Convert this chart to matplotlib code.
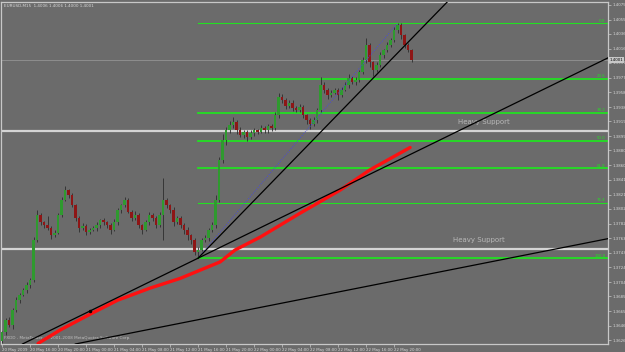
import matplotlib
matplotlib.use("Agg")
import matplotlib.pyplot as plt
import numpy as np

# EURUSD half-hour candles, bar 0 = 20 May 2009 12:00
closes = [1.3637, 1.3653, 1.3647, 1.3667, 1.3680, 1.3687, 1.3693, 1.3700, 1.3707, 1.3760,
          1.3794, 1.3784, 1.3780, 1.3776, 1.3767, 1.3770, 1.3794, 1.3814, 1.3827, 1.3820,
          1.3807, 1.3790, 1.3776, 1.3779, 1.3771, 1.3774, 1.3776, 1.3780, 1.3787, 1.3784,
          1.3780, 1.3774, 1.3784, 1.3800, 1.3807, 1.3814, 1.3798, 1.3790, 1.3794, 1.3780,
          1.3774, 1.3784, 1.3794, 1.3790, 1.3780, 1.3794, 1.3814, 1.3807, 1.3800, 1.3784,
          1.3790, 1.3780, 1.3774, 1.3767, 1.3760, 1.3744, 1.3747, 1.3760, 1.3763, 1.3774,
          1.3780, 1.3814, 1.3867, 1.3894, 1.3907, 1.3914, 1.3918, 1.3907, 1.3901, 1.3905,
          1.3898, 1.3903, 1.3907, 1.3905, 1.3910, 1.3907, 1.3913, 1.3910, 1.3927, 1.3952,
          1.3948, 1.3939, 1.3944, 1.3937, 1.3934, 1.3938, 1.3927, 1.3921, 1.3915, 1.3921,
          1.3934, 1.3968, 1.3961, 1.3954, 1.3957, 1.3961, 1.3954, 1.3961, 1.3968, 1.3977,
          1.3972, 1.3974, 1.3985, 1.4001, 1.4021, 1.3998, 1.3988, 1.3994, 1.4008, 1.4014,
          1.4021, 1.4028, 1.4041, 1.4048, 1.4034, 1.4021, 1.4014, 1.4001]
first_open = 1.3625
wick_up = [2, 3, 4, 3, 4, 2, 3, 4, 3, 4, 6, 3, 2, 12, 3, 4, 3, 4, 5, 2,
           3, 2, 3, 4, 3, 2, 3, 4, 2, 3, 2, 3, 4, 3, 2, 4, 3, 2, 5, 3,
           2, 3, 4, 2, 3, 4, 29, 3, 2, 4, 3, 2, 3, 4, 2, 3, 4, 3, 4, 2,
           5, 6, 4, 8, 4, 6, 7, 3, 4, 2, 3, 4, 3, 2, 4, 3, 2, 3, 4, 5,
           3, 2, 4, 3, 2, 4, 3, 2, 3, 4, 3, 10, 3, 2, 4, 3, 2, 4, 3, 5,
           2, 4, 3, 4, 9, 3, 2, 4, 3, 2, 4, 3, 4, 2, 3, 2, 3, 2]
wick_dn = [3, 4, 3, 5, 3, 4, 2, 3, 4, 3, 2, 4, 3, 2, 5, 3, 2, 3, 2, 4,
           3, 4, 5, 2, 4, 3, 2, 3, 3, 4, 3, 5, 2, 3, 4, 3, 2, 4, 3, 4,
           6, 2, 3, 4, 3, 2, 34, 4, 3, 5, 2, 4, 5, 6, 5, 4, 8, 2, 3, 4,
           3, 4, 3, 4, 6, 3, 4, 5, 3, 4, 5, 2, 4, 3, 2, 4, 3, 4, 2, 3,
           4, 3, 2, 4, 3, 2, 4, 5, 6, 2, 4, 3, 4, 5, 3, 2, 6, 3, 2, 4,
           3, 5, 2, 3, 4, 6, 8, 3, 2, 4, 3, 2, 3, 4, 5, 4, 2, 3]

# red moving average (bar index, price)
ma_bars = [10.3, 16.6, 25.1, 33.1, 42.3, 50.9, 56.6, 62.3, 66.6, 73.7, 85.1, 96.6, 105.1, 116.6]
ma_vals = [1.3622, 1.3640, 1.3661, 1.3680, 1.3696, 1.3709, 1.3720, 1.3731, 1.3747, 1.3764,
           1.3796, 1.3827, 1.3854, 1.3884]

# objects drawn on the chart
fib_high, fib_low, fib_bar = 1.4050, 1.3736, 56
fib_levels = [0.0, 23.6, 38.2, 50.0, 61.8, 76.4, 100.0]
fib_labels = ["0.0", "23.6", "38.2", "50.0", "61.8", "76.4", "100.0"]
support_levels = [1.3906, 1.3748]
bid = 1.4001
trend_a = [(56, 1.3736), (125.1, 1.3894)]
trend_b = [(56, 1.3736), (119.4, 1.4041)]
trend_c = [(21.7, 1.3622), (173, 1.3762)]

y_ticks = [1.4075, 1.4055, 1.4036, 1.4016, 1.3997, 1.3977, 1.3958, 1.3938, 1.3919, 1.3899,
           1.3880, 1.3860, 1.3841, 1.3821, 1.3802, 1.3782, 1.3763, 1.3743, 1.3724, 1.3704,
           1.3685, 1.3665, 1.3646, 1.3626]
x_tick_bars = [0, 8, 16, 24, 32, 40, 48, 56, 64, 72, 80, 88, 96, 104, 112]
x_tick_labels = ["20 May 2009", "20 May 16:00", "20 May 20:00", "21 May 00:00", "21 May 04:00",
                 "21 May 08:00", "21 May 12:00", "21 May 16:00", "21 May 20:00", "22 May 00:00",
                 "22 May 04:00", "22 May 08:00", "22 May 12:00", "22 May 16:00", "22 May 20:00"]

bg = "#6b6b6b"
fg = "#d8d8d8"
fig = plt.figure(figsize=(6.25, 3.52), dpi=100, facecolor=bg)
ax = fig.add_axes([1 / 625, 8 / 352, 607 / 625, 342 / 352], facecolor=bg)
ax.set_xlim(-0.29, 173.14)
ax.set_ylim(1.36213, 1.40785)

# candles
c = np.array(closes)
o = np.concatenate([[first_open], c[:-1]])
hi = np.maximum(o, c) + np.array(wick_up) * 0.0001
lo = np.minimum(o, c) - np.array(wick_dn) * 0.0001
idx = np.arange(len(c))
ax.vlines(idx, lo, hi, color="#2e2e2e", lw=0.6, zorder=3)
up = c >= o
body_h = np.maximum(np.abs(c - o), 0.00008)
ax.bar(idx[up], body_h[up], bottom=np.minimum(o, c)[up], width=0.6, color="#2f9a2f",
       edgecolor="none", zorder=4)
ax.bar(idx[~up], body_h[~up], bottom=np.minimum(o, c)[~up], width=0.6, color="#8e1616",
       edgecolor="none", zorder=4)

# horizontal lines
ax.axhline(bid, color="#8e8e8e", lw=0.7, zorder=1)
for lvl in support_levels:
    ax.axhline(lvl, color="#d4d4d4", lw=1.6, zorder=2)
ax.text(130.3, 1.3918, "Heavy Support", color="#b8b8b8", fontsize=5, va="center", zorder=6)
ax.text(128.9, 1.3760, "Heavy Support", color="#b8b8b8", fontsize=5, va="center", zorder=6)

# fibonacci retracement
xmax = ax.get_xlim()[1]
for lvl, lab in zip(fib_levels, fib_labels):
    p = fib_high - lvl / 100 * (fib_high - fib_low)
    lw = 0.8 if lab in ("0.0", "76.4") else 1.3
    ax.plot([fib_bar, xmax], [p, p], color="#22e022", lw=lw, zorder=2)
    ax.text(172.4, p + 0.00008, lab, color="#22e022", fontsize=2.8, ha="right", va="bottom", zorder=6)
ax.plot([fib_bar, 113], [fib_low, fib_high], color="#4a4ad8", lw=0.7, ls=(0, (1, 1.5)), zorder=5)

# trend lines and moving average
ax.plot(ma_bars, ma_vals, color="#ff1010", lw=2.4, zorder=5, solid_capstyle="round")
ax.axline(trend_a[0], trend_a[1], color="black", lw=0.9, zorder=6)
ax.axline(trend_c[0], trend_c[1], color="black", lw=0.9, zorder=6)
(bx0, by0), (bx1, by1) = trend_b
ax.plot([bx0, 200], [by0, by0 + (by1 - by0) / (bx1 - bx0) * (200 - bx0)], color="black", lw=0.9, zorder=6)
ax.plot([25.1], [1.3665], marker="o", ms=1.5, color="black", zorder=7)

# axes styling
for s in ax.spines.values():
    s.set_color("#c8c8c8")
    s.set_linewidth(0.9)
ax.yaxis.tick_right()
ax.set_yticks(y_ticks, [f"{v:.4f}" for v in y_ticks])
ax.set_xticks(x_tick_bars, x_tick_labels)
for t in ax.get_xticklabels():
    t.set_ha("left")
ax.tick_params(axis="both", colors="#c8c8c8", labelcolor=fg, labelsize=2.8, length=2, width=0.5, pad=1)

# price tag
ax.text(173.6, bid, f"{bid:.4f}", fontsize=2.8, color="black", va="center", ha="left",
        bbox=dict(boxstyle="square,pad=0.25", fc="#c8c8c8", ec="none"), clip_on=False, zorder=8)

ax.text(0.005, 0.995, "EURUSD,M15  1.4006 1.4006 1.4000 1.4001", transform=ax.transAxes,
        fontsize=3, color=fg, va="top", ha="left")
ax.text(0.005, 0.012, "FXDD - MetaTrader, \u00a9 2001-2008 MetaQuotes Software Corp.", transform=ax.transAxes,
        fontsize=3, color="#c0c0c0", va="bottom", ha="left")

fig.savefig("out.png", dpi=100, facecolor=bg)
